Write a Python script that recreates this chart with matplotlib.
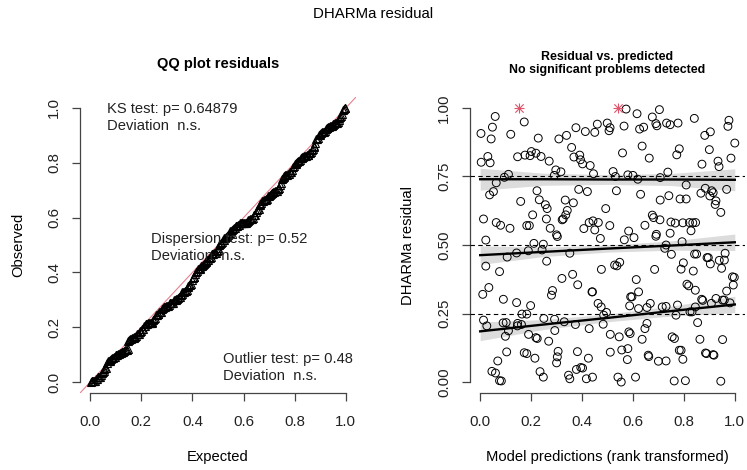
import numpy as np
import matplotlib.pyplot as plt

plt.rcParams['font.family'] = ['Liberation Sans', 'DejaVu Sans']

# scaled residuals vs rank-transformed predictions
pred_x = [
    0.059, 0.048, 0.003, 0.043, 0.120, 0.173, 0.004, 0.030, 0.039, 0.147,
    0.176, 0.196, 0.201, 0.219, 0.239, 0.228, 0.271, 0.309, 0.339, 0.359,
    0.376, 0.368, 0.391, 0.394, 0.402, 0.432, 0.413, 0.450, 0.460, 0.499,
    0.510, 0.506, 0.573, 0.565, 0.559, 0.616, 0.626, 0.642, 0.636, 0.676,
    0.690, 0.694, 0.704, 0.664, 0.732, 0.746, 0.777, 0.782, 0.772, 0.841,
    0.882, 0.904, 0.900, 0.871, 0.934, 0.938, 0.977, 0.973, 1.000, 0.985,
    0.063, 0.052, 0.037, 0.095, 0.111, 0.291, 0.297, 0.317, 0.445, 0.522,
    0.531, 0.580, 0.600, 0.619, 0.707, 0.737, 0.809, 0.535, 0.387, 0.421,
    0.630, 0.741, 0.707, 0.785, 0.809, 0.867, 0.884, 0.909, 0.915, 0.902,
    0.926, 0.923, 0.945, 0.968, 0.159, 0.223, 0.232, 0.256, 0.263, 0.334,
    0.342, 0.336, 0.326, 0.322, 0.366, 0.206, 0.260, 0.193, 0.493, 0.509,
    0.443, 0.428, 0.464, 0.407, 0.450, 0.013, 0.063, 0.080, 0.117, 0.183,
    0.300, 0.275, 0.583, 0.647, 0.676, 0.681, 0.706, 0.692, 0.749, 0.766,
    0.796, 0.822, 0.835, 0.846, 0.828, 0.746,
    0.022, 0.022, 0.010, 0.034, 0.076, 0.091, 0.106, 0.143, 0.189, 0.211,
    0.248, 0.261, 0.243, 0.303, 0.321, 0.352, 0.363, 0.383, 0.472, 0.476,
    0.441, 0.528, 0.537, 0.548, 0.613, 0.566, 0.604, 0.685, 0.690, 0.725,
    0.730, 0.751, 0.789, 0.798, 0.793, 0.812, 0.819, 0.837, 0.842, 0.850,
    0.845, 0.870, 0.891, 0.896, 0.904, 0.939, 0.948, 0.959, 0.962, 0.991,
    0.998, 0.994, 0.968, 0.952, 0.926, 0.908,
    0.013, 0.026, 0.090, 0.102, 0.099, 0.111, 0.143, 0.146, 0.164, 0.147,
    0.162, 0.198, 0.183, 0.190, 0.219, 0.224, 0.250, 0.269, 0.292, 0.293,
    0.284, 0.280, 0.330, 0.374, 0.439, 0.428, 0.463, 0.475, 0.483, 0.485,
    0.496, 0.511, 0.546, 0.584, 0.587, 0.591, 0.596, 0.622, 0.622, 0.636,
    0.647, 0.655, 0.668, 0.655, 0.715, 0.730, 0.769, 0.775, 0.754, 0.763,
    0.789, 0.824, 0.832, 0.845, 0.854, 0.863, 0.874, 0.889, 0.915, 0.952,
    0.959, 0.981,
    0.104, 0.069, 0.046, 0.060, 0.076, 0.083, 0.173, 0.183, 0.215, 0.235,
    0.248, 0.306, 0.303, 0.300, 0.347, 0.352, 0.382, 0.378, 0.395, 0.402,
    0.417, 0.425, 0.441, 0.511, 0.541, 0.554, 0.556, 0.580, 0.578, 0.589,
    0.610, 0.660, 0.662, 0.700, 0.730, 0.762, 0.782, 0.796, 0.806, 0.885,
    0.918, 0.945,
]
resid_y = [
    0.969, 0.930, 0.907, 0.887, 0.904, 0.949, 0.802, 0.823, 0.800, 0.822,
    0.828, 0.826, 0.841, 0.835, 0.823, 0.890, 0.806, 0.887, 0.900, 0.856,
    0.928, 0.821, 0.828, 0.811, 0.796, 0.790, 0.914, 0.911, 0.941, 0.945,
    0.928, 0.917, 0.996, 0.934, 0.836, 0.979, 0.923, 0.930, 0.861, 0.967,
    0.943, 0.935, 0.994, 0.817, 0.945, 0.939, 0.945, 0.851, 0.829, 0.962,
    0.900, 0.913, 0.848, 0.795, 0.806, 0.786, 0.955, 0.933, 0.872, 0.817,
    0.727, 0.695, 0.683, 0.747, 0.758, 0.754, 0.774, 0.767, 0.760, 0.768,
    0.750, 0.756, 0.754, 0.740, 0.746, 0.766, 0.719, 0.698, 0.703, 0.695,
    0.685, 0.680, 0.664, 0.668, 0.668, 0.689, 0.707, 0.698, 0.691, 0.679,
    0.661, 0.648, 0.619, 0.703, 0.659, 0.698, 0.665, 0.647, 0.633, 0.664,
    0.626, 0.610, 0.595, 0.592, 0.654, 0.610, 0.595, 0.571, 0.633, 0.571,
    0.588, 0.582, 0.582, 0.560, 0.555, 0.595, 0.582, 0.572, 0.561, 0.571,
    0.537, 0.561, 0.551, 0.572, 0.609, 0.600, 0.592, 0.539, 0.584, 0.580,
    0.581, 0.582, 0.581, 0.582, 0.552, 0.543,
    0.518, 0.423, 0.320, 0.345, 0.403, 0.302, 0.456, 0.471, 0.479, 0.506,
    0.503, 0.441, 0.482, 0.531, 0.378, 0.470, 0.393, 0.355, 0.524, 0.411,
    0.329, 0.427, 0.424, 0.437, 0.374, 0.519, 0.527, 0.411, 0.532, 0.488,
    0.500, 0.466, 0.412, 0.435, 0.512, 0.357, 0.351, 0.405, 0.467, 0.467,
    0.335, 0.302, 0.454, 0.454, 0.431, 0.444, 0.415, 0.445, 0.470, 0.384,
    0.382, 0.354, 0.332, 0.299, 0.305, 0.287,
    0.226, 0.205, 0.216, 0.217, 0.167, 0.187, 0.290, 0.205, 0.248, 0.214,
    0.210, 0.279, 0.248, 0.174, 0.162, 0.159, 0.232, 0.149, 0.229, 0.188,
    0.334, 0.317, 0.220, 0.210, 0.329, 0.195, 0.287, 0.274, 0.211, 0.244,
    0.254, 0.174, 0.165, 0.183, 0.278, 0.311, 0.311, 0.329, 0.268, 0.156,
    0.195, 0.272, 0.287, 0.214, 0.274, 0.276, 0.244, 0.281, 0.165, 0.159,
    0.116, 0.256, 0.256, 0.274, 0.217, 0.156, 0.298, 0.104, 0.100, 0.155,
    0.299, 0.289,
    0.110, 0.077, 0.039, 0.033, 0.005, 0.004, 0.107, 0.104, 0.087, 0.038,
    0.018, 0.112, 0.092, 0.070, 0.025, 0.012, 0.111, 0.046, 0.053, 0.051,
    0.012, 0.087, 0.018, 0.109, 0.018, 0.000, 0.117, 0.122, 0.082, 0.177,
    0.018, 0.098, 0.093, 0.076, 0.077, 0.004, 0.116, 0.083, 0.005, 0.106,
    0.098, 0.003,
]

# simulation outliers (residual exactly 1)
outlier_x = [0.153, 0.543]
outlier_y = [1.0, 1.0]

# quantile regression fits and their confidence bands
q_x = [0.0, 0.25, 0.5, 0.75, 1.0]
q_levels = [0.25, 0.5, 0.75]
q25_fit = [0.185, 0.210, 0.234, 0.259, 0.283]
q25_hw = [0.034, 0.018, 0.014, 0.018, 0.030]
q50_fit = [0.463, 0.475, 0.487, 0.498, 0.510]
q50_hw = [0.034, 0.017, 0.013, 0.017, 0.030]
q75_fit = [0.740, 0.740, 0.739, 0.739, 0.738]
q75_hw = [0.040, 0.022, 0.018, 0.022, 0.040]

ks_text = 'KS test: p= 0.64879\nDeviation  n.s.'
disp_text = 'Dispersion test: p= 0.52\nDeviation  n.s.'
outl_text = 'Outlier test: p= 0.48\nDeviation  n.s.'

fs = 10.6


def style_axis(ax, yticks, ylabels):
    ax.set_xlim(-0.04, 1.04)
    ax.set_ylim(-0.04, 1.04)
    for s in ['top', 'right']:
        ax.spines[s].set_visible(False)
    ax.spines['left'].set_bounds(0, 1)
    ax.spines['bottom'].set_bounds(0, 1)
    for s in ['left', 'bottom']:
        ax.spines[s].set_color('#444444')
        ax.spines[s].set_linewidth(0.9)
    ax.set_xticks([0, 0.2, 0.4, 0.6, 0.8, 1.0])
    ax.set_xticklabels(['0.0', '0.2', '0.4', '0.6', '0.8', '1.0'])
    ax.set_yticks(yticks)
    ax.set_yticklabels(ylabels, rotation=90, va='center')
    ax.tick_params(direction='out', length=5.5, width=0.9, color='#444444',
                   labelsize=10.8, labelcolor='#222222')
    ax.tick_params(axis='x', pad=10.5)
    ax.tick_params(axis='y', pad=8)


fig = plt.figure(figsize=(7.47, 4.70), dpi=100)
fig.text(0.5, 0.97, 'DHARMa residual', ha='center', va='center', fontsize=10.8)

# ---- QQ plot
ax1 = fig.add_axes([0.1071, 0.1638, 0.3695, 0.6298])
obs = np.sort(np.concatenate([resid_y, outlier_y]))
n = len(obs)
expected = (np.arange(1, n + 1) - 0.5) / n
ax1.plot([-0.04, 1.04], [-0.04, 1.04], color='#e8808f', lw=0.8, zorder=1)
ax1.plot(expected, obs, ls='none', marker='^', ms=5.5, mfc='none',
         mec='black', mew=0.8, zorder=2)
style_axis(ax1, [0, 0.2, 0.4, 0.6, 0.8, 1.0],
           ['0.0', '0.2', '0.4', '0.6', '0.8', '1.0'])
ax1.set_title('QQ plot residuals', fontsize=10.5, fontweight='bold', pad=21)
ax1.set_xlabel('Expected', fontsize=fs, labelpad=15)
ax1.set_ylabel('Observed', fontsize=fs, labelpad=16)
ax1.text(0.098, 0.932, ks_text, transform=ax1.transAxes, fontsize=fs,
         va='center', linespacing=1.25, color='#222222')
ax1.text(0.257, 0.492, disp_text, transform=ax1.transAxes, fontsize=fs,
         va='center', linespacing=1.25, color='#222222')
ax1.text(0.518, 0.086, outl_text, transform=ax1.transAxes, fontsize=fs,
         va='center', linespacing=1.25, color='#222222')

# ---- residual vs predicted
ax2 = fig.add_axes([0.6292, 0.1638, 0.3681, 0.6298])
fits = [q25_fit, q50_fit, q75_fit]
hws = [q25_hw, q50_hw, q75_hw]
for fit, hw in zip(fits, hws):
    fit = np.array(fit)
    hw = np.array(hw)
    ax2.fill_between(q_x, fit - hw, fit + hw, color='#dcdcdc', lw=0, zorder=1)
ax2.scatter(pred_x, resid_y, s=32, facecolors='none', edgecolors='black',
            linewidths=0.7, zorder=2)
for q in q_levels:
    ax2.axhline(q, color='black', lw=0.8, ls=(0, (4, 3)), zorder=3)
for fit in fits:
    ax2.plot(q_x, fit, color='black', lw=1.7, zorder=4)
ax2.scatter(outlier_x, outlier_y, s=55, marker='+', color='#df536b',
            linewidths=0.8, zorder=5)
ax2.scatter(outlier_x, outlier_y, s=36, marker='x', color='#df536b',
            linewidths=0.8, zorder=5)
style_axis(ax2, [0, 0.25, 0.5, 0.75, 1.0],
           ['0.00', '0.25', '0.50', '0.75', '1.00'])
ax2.set_title('Residual vs. predicted\nNo significant problems detected',
              fontsize=8.9, fontweight='bold', pad=17, linespacing=1.2)
ax2.set_xlabel('Model predictions (rank transformed)', fontsize=fs, labelpad=15)
ax2.set_ylabel('DHARMa residual', fontsize=fs, labelpad=16)

fig.savefig('out.png', dpi=100)
